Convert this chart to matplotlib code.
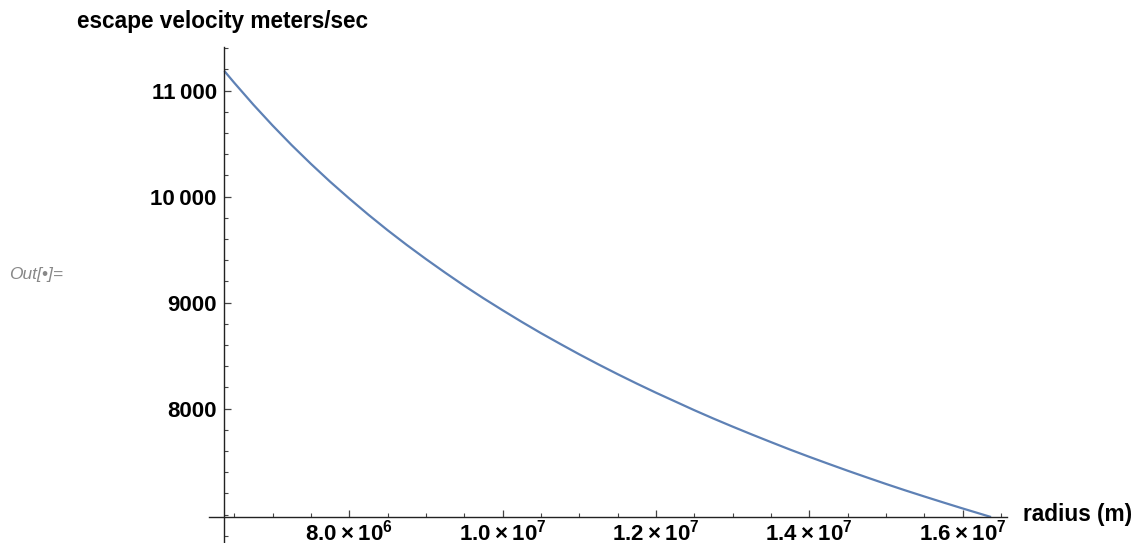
import matplotlib
matplotlib.use("Agg")
from matplotlib import pyplot as plt
from matplotlib.ticker import FixedLocator, MultipleLocator

plt.rcParams["font.family"] = ["Liberation Sans", "DejaVu Sans"]
plt.rcParams["mathtext.fontset"] = "custom"
plt.rcParams["mathtext.bf"] = "Liberation Sans:bold"
plt.rcParams["mathtext.rm"] = "Liberation Sans:bold"
plt.rcParams["mathtext.default"] = "bf"

# values (radius in m, escape velocity in m/s)
radius = [6.371e6, 6.5e6, 6.75e6, 7.0e6, 7.25e6, 7.5e6, 7.75e6, 8.0e6, 8.25e6, 8.5e6,
          8.75e6, 9.0e6, 9.25e6, 9.5e6, 9.75e6, 1.0e7, 1.025e7, 1.05e7, 1.075e7, 1.1e7,
          1.125e7, 1.15e7, 1.175e7, 1.2e7, 1.25e7, 1.275e7, 1.3e7, 1.325e7, 1.35e7,
          1.375e7, 1.4e7, 1.425e7, 1.45e7, 1.475e7, 1.5e7, 1.525e7, 1.55e7, 1.575e7,
          1.6e7, 1.6371e7]
velocity = [11186, 11075, 10868, 10672, 10486, 10310, 10142, 9983, 9830, 9684,
            9545, 9412, 9284, 9160, 9042, 8929, 8819, 8713, 8612, 8513,
            8418, 8326, 8237, 8151, 7986, 7907, 7831, 7757, 7685,
            7614, 7546, 7480, 7415, 7352, 7290, 7230, 7172, 7115,
            7059, 6978]

x_ticks = [8.0e6, 1.0e7, 1.2e7, 1.4e7, 1.6e7]
x_labels = ["8.0\u2009\u00d7\u200910$^{6}$", "1.0\u2009\u00d7\u200910$^{7}$",
            "1.2\u2009\u00d7\u200910$^{7}$", "1.4\u2009\u00d7\u200910$^{7}$",
            "1.6\u2009\u00d7\u200910$^{7}$"]
y_ticks = [8000, 9000, 10000, 11000]
y_labels = ["8000", "9000", "10\u2009000", "11\u2009000"]

W, H = 1137, 543
fig = plt.figure(figsize=(W / 100, H / 100), dpi=100)
ax = fig.add_axes([209.3 / W, 0.0, 797.4 / W, 496.3 / H])

ax.plot(radius, velocity, color="#5E81B5", lw=1.6, solid_capstyle="butt")
ax.set_xlim(6.175e6, 1.6575e7)
ax.set_ylim(6733, 11415)

ax.spines["top"].set_visible(False)
ax.spines["right"].set_visible(False)
ax.spines["left"].set_position(("data", radius[0]))
ax.spines["bottom"].set_position(("data", velocity[-1]))
for s in ("left", "bottom"):
    ax.spines[s].set_linewidth(1.0)
    ax.spines[s].set_color("#222222")

ax.xaxis.set_major_locator(FixedLocator(x_ticks))
ax.set_xticklabels(x_labels)
ax.xaxis.set_minor_locator(MultipleLocator(5e5))
ax.yaxis.set_major_locator(FixedLocator(y_ticks))
ax.set_yticklabels(y_labels)
ax.yaxis.set_minor_locator(MultipleLocator(200))

ax.tick_params(which="major", direction="in", length=5, width=0.9, color="#444444",
               labelsize=16)
ax.tick_params(axis="x", which="major", pad=1.5)
ax.tick_params(axis="y", which="major", pad=5.5)
ax.tick_params(which="minor", direction="in", length=3, width=0.8, color="#444444")
for lab in ax.get_xticklabels() + ax.get_yticklabels():
    lab.set_fontweight("bold")

fig.text(77 / W, 1 - 28.3 / H, "escape velocity meters/sec", fontsize=16.3,
         fontweight="bold", ha="left", va="baseline")
fig.text(1023 / W, 1 - 515 / H, "radius (m)", fontsize=16.3, fontweight="bold",
         ha="left", va="center")
fig.text(9 / W, 1 - 275 / H, "Out[\u2022]=", fontsize=12.5, style="italic",
         color="#888888", ha="left", va="center")

fig.savefig("out.png", dpi=100)
